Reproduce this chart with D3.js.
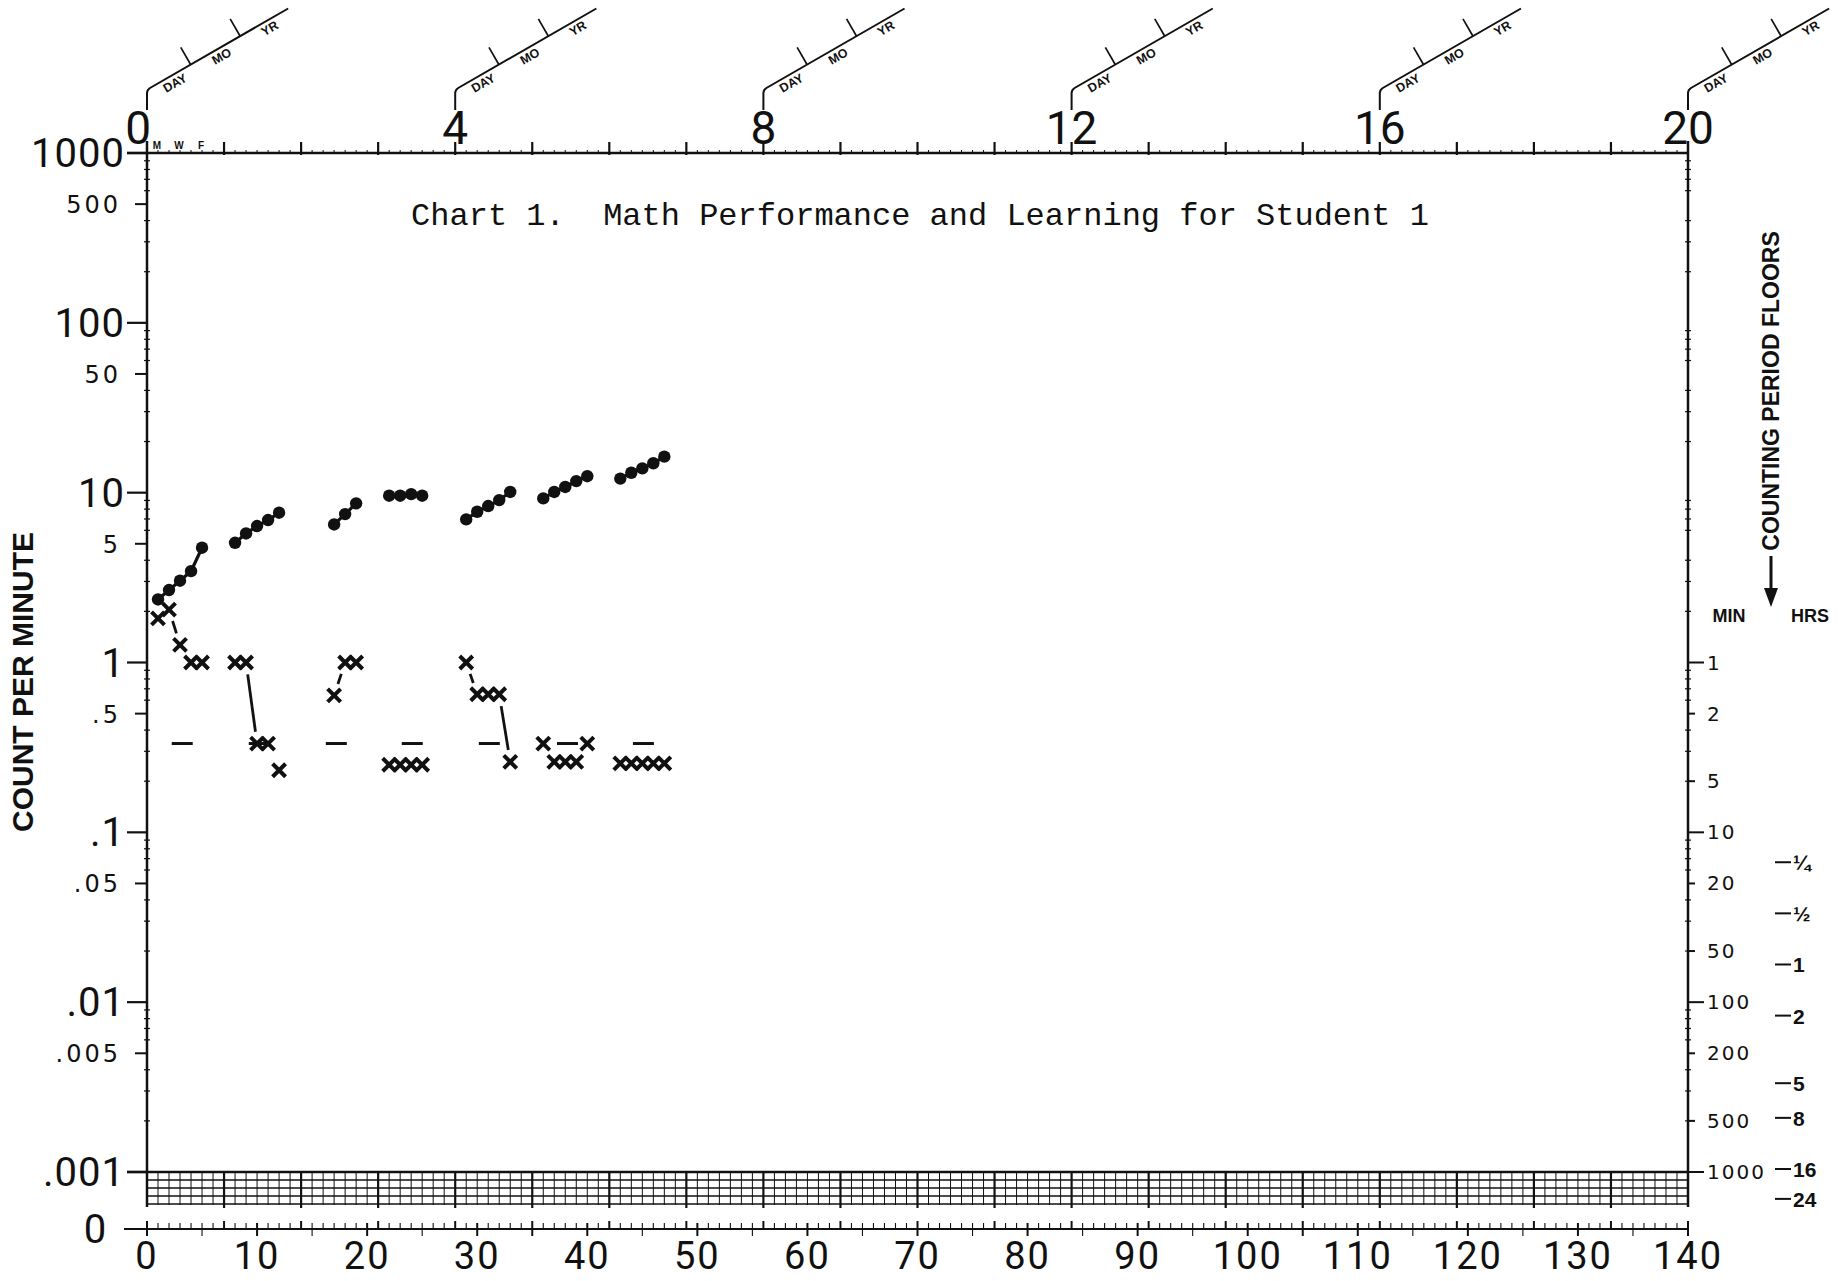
<!DOCTYPE html>
<html>
<head>
<meta charset="utf-8">
<script src="https://cdn.jsdelivr.net/npm/d3@7"></script>
<style>
  body { margin: 0; background: #fff; }
  svg { display: block; }
  text { fill: #111; }
</style>
</head>
<body>
<div id="chart"></div>
<script>
// --- data ---
const correctDays = [1, 2, 3, 4, 5, 8, 9, 10, 11, 12, 17, 18, 19, 22, 23, 24, 25,
  29, 30, 31, 32, 33, 36, 37, 38, 39, 40, 43, 44, 45, 46, 47];
const correctRates = [2.35, 2.67, 3.03, 3.45, 4.74, 5.07, 5.75, 6.36, 6.9, 7.62, 6.5, 7.48, 8.65,
  9.6, 9.6, 9.8, 9.6, 6.96, 7.72, 8.34, 9.04, 10.1, 9.25, 10.1, 10.8, 11.7, 12.5,
  12.1, 13.1, 13.9, 14.9, 16.3];
const errorDays = [1, 2, 3, 4, 5, 8, 9, 10, 11, 12, 17, 18, 19, 22, 23, 24, 25,
  29, 30, 31, 32, 33, 36, 37, 38, 39, 40, 43, 44, 45, 46, 47];
const errorRates = [1.82, 2.05, 1.27, 1.0, 1.0, 1.0, 1.0, 0.333, 0.333, 0.232, 0.64, 1.0, 1.0,
  0.25, 0.25, 0.25, 0.25, 1.0, 0.65, 0.65, 0.65, 0.26, 0.333, 0.26, 0.26, 0.26, 0.333,
  0.255, 0.255, 0.255, 0.255, 0.255];
const floorDays = [3.2, 10.2, 17.2, 24.1, 31.1, 38.2, 45.1];
const floorRate = 1 / 3;

const leftBig = [1000, 100, 10, 1, 0.1, 0.01, 0.001];
const leftBigLabels = ["1000", "100", "10", "1", ".1", ".01", ".001"];
const leftSmall = [500, 50, 5, 0.5, 0.05, 0.005];
const leftSmallLabels = ["500", "50", "5", ".5", ".05", ".005"];
const minutes = [1, 2, 5, 10, 20, 50, 100, 200, 500, 1000];
const hours = [0.25, 0.5, 1, 2, 5, 8, 16, 24];
const hourLabels = ["¼", "½", "1", "2", "5", "8", "16", "24"];
const weekLabels = [0, 4, 8, 12, 16, 20];
const dayLabels = [0, 10, 20, 30, 40, 50, 60, 70, 80, 90, 100, 110, 120, 130, 140];
const titleText = "Chart 1.  Math Performance and Learning for Student 1";

const W = 1844, H = 1281;
const svg = d3.select("#chart").append("svg").attr("width", W).attr("height", H);

const x = d3.scaleLinear().domain([0, 140]).range([147, 1688]);
const y = d3.scaleLog().domain([0.001, 1000]).range([1172, 153]);
const yZero = 1229;
const bandBottom = 1205;
const numFont = "Roboto, 'DejaVu Sans', sans-serif";

const g = svg.append("g").attr("stroke", "#111").attr("fill", "none");

// frame
g.append("line").attr("x1", 127).attr("x2", 1688).attr("y1", y(1000)).attr("y2", y(1000)).attr("stroke-width", 2.5);
g.append("line").attr("x1", 127).attr("x2", 1688).attr("y1", y(0.001)).attr("y2", y(0.001)).attr("stroke-width", 2.5);
g.append("line").attr("x1", x(0)).attr("x2", x(0)).attr("y1", 141).attr("y2", bandBottom + 2).attr("stroke-width", 2.5);
g.append("line").attr("x1", x(140)).attr("x2", x(140)).attr("y1", 141).attr("y2", bandBottom + 2).attr("stroke-width", 2.5);

// top day / week ticks
const allDays = d3.range(1, 140);
g.selectAll(".dt").data(allDays).enter().append("line")
  .attr("x1", d => x(d)).attr("x2", d => x(d))
  .attr("y1", d => y(1000) - (d % 7 === 0 ? 11 : 3))
  .attr("y2", d => y(1000) + (d % 7 === 0 ? 2 : 0))
  .attr("stroke-width", d => d % 7 === 0 ? 2.2 : 1);

// left / right axis minor ticks
const minor = [];
for (let e = -3; e < 3; e++) for (let m = 2; m <= 9; m++) if (m !== 5) minor.push(m * Math.pow(10, e));
g.selectAll(".lm").data(minor).enter().append("line")
  .attr("x1", x(0) - 3).attr("x2", x(0) + 3).attr("y1", d => y(d)).attr("y2", d => y(d)).attr("stroke-width", 1.2);
g.selectAll(".rm").data(minor).enter().append("line")
  .attr("x1", x(140) - 3).attr("x2", x(140) + 3).attr("y1", d => y(d)).attr("y2", d => y(d)).attr("stroke-width", 1.2);
g.selectAll(".lb").data(leftBig).enter().append("line")
  .attr("x1", 127).attr("x2", x(0)).attr("y1", d => y(d)).attr("y2", d => y(d)).attr("stroke-width", 2.2);
g.selectAll(".ls").data(leftSmall).enter().append("line")
  .attr("x1", 135).attr("x2", x(0)).attr("y1", d => y(d)).attr("y2", d => y(d)).attr("stroke-width", 2);

// right axis ticks (minutes -> floor = 1/min)
g.selectAll(".rt").data(minutes).enter().append("line")
  .attr("x1", x(140)).attr("x2", d => x(140) + ([1, 10, 100, 1000].includes(d) ? 16 : 7))
  .attr("y1", d => y(1 / d)).attr("y2", d => y(1 / d)).attr("stroke-width", 2);
g.selectAll(".ht").data(hours).enter().append("line")
  .attr("x1", 1775).attr("x2", 1791)
  .attr("y1", d => y(1 / (d * 60))).attr("y2", d => y(1 / (d * 60))).attr("stroke-width", 2);

// record floor band
const bandRows = [1180, 1188, 1196, 1204];
g.selectAll(".br").data(bandRows).enter().append("line")
  .attr("x1", x(0)).attr("x2", x(140)).attr("y1", d => d).attr("y2", d => d).attr("stroke-width", 1.5);
g.selectAll(".bc").data(d3.range(1, 140)).enter().append("line")
  .attr("x1", d => x(d)).attr("x2", d => x(d))
  .attr("y1", y(0.001)).attr("y2", d => d % 7 === 0 ? bandBottom + 3 : bandBottom)
  .attr("stroke-width", d => d % 7 === 0 ? 2.2 : 1);

// zero line
g.append("line").attr("x1", 124).attr("x2", x(140)).attr("y1", yZero).attr("y2", yZero).attr("stroke-width", 2.2);
g.selectAll(".zt").data(d3.range(0, 141)).enter().append("line")
  .attr("x1", d => x(d)).attr("x2", d => x(d))
  .attr("y1", d => yZero - (d % 7 === 0 ? 8 : 6)).attr("y2", d => yZero + (d % 5 === 0 ? 7 : 0))
  .attr("stroke-width", d => (d % 7 === 0 || d % 10 === 0) ? 2 : 1.1);

// celeration fans
const ang = 30 * Math.PI / 180, fanLen = 163;
const ux = Math.cos(ang), uy = -Math.sin(ang);
weekLabels.forEach(w => {
  const x0 = x(w * 7), yb = 90;
  g.append("path").attr("stroke-width", 2)
    .attr("d", `M${x0},110 L${x0},${yb + 3} Q${x0},${yb} ${x0 + 3},${yb - 2} L${x0 + fanLen * ux},${yb + fanLen * uy}`);
  [0.31, 0.66].forEach(f => {
    const bx = x0 + fanLen * f * ux, by = yb + fanLen * f * uy;
    g.append("line").attr("x1", bx).attr("y1", by)
      .attr("x2", bx - 20 * Math.sin(ang)).attr("y2", by - 20 * Math.cos(ang)).attr("stroke-width", 1.7);
  });
  [["DAY", 0.17], ["MO", 0.5], ["YR", 0.84]].forEach(([t, f]) => {
    const bx = x0 + fanLen * f * ux + 9 * Math.sin(ang), by = yb + fanLen * f * uy + 9 * Math.cos(ang);
    svg.append("text").attr("transform", `translate(${bx},${by}) rotate(-30)`)
      .attr("text-anchor", "middle").attr("dominant-baseline", "middle")
      .style("font", "bold 12.5px 'Liberation Sans', sans-serif").text(t);
  });
});

// texts
const txt = svg.append("g");
txt.selectAll(".wl").data(weekLabels).enter().append("text")
  .attr("x", d => d === 0 ? x(0) + 4 : x(d * 7)).attr("y", 144)
  .attr("text-anchor", d => d === 0 ? "end" : "middle")
  .style("font", `46px ${numFont}`).text(d => d);
[["M", 1], ["W", 3], ["F", 5]].forEach(([t, d]) => {
  txt.append("text").attr("x", x(d) - 1).attr("y", 149).attr("text-anchor", "middle")
    .style("font", "bold 10px 'Liberation Sans', sans-serif").text(t);
});
txt.selectAll(".bl").data(dayLabels).enter().append("text")
  .attr("x", d => x(d)).attr("y", 1269).attr("text-anchor", "middle")
  .style("font", `38px ${numFont}`).style("letter-spacing", "2px").text(d => d);
txt.selectAll(".lbl").data(leftBig).enter().append("text")
  .attr("x", 125).attr("y", d => y(d) + 14).attr("text-anchor", "end")
  .style("font", `40px ${numFont}`).style("letter-spacing", "1px").text((d, i) => leftBigLabels[i]);
txt.selectAll(".lsl").data(leftSmall).enter().append("text")
  .attr("x", 121).attr("y", d => y(d) + 9).attr("text-anchor", "end")
  .style("font", "24px 'DejaVu Sans', sans-serif").style("letter-spacing", "3px").text((d, i) => leftSmallLabels[i]);
txt.append("text").attr("x", 95).attr("y", yZero + 14).attr("text-anchor", "middle")
  .style("font", `40px ${numFont}`).text("0");
txt.selectAll(".mn").data(minutes).enter().append("text")
  .attr("x", 1707).attr("y", d => y(1 / d) + 7)
  .style("font", "20px 'DejaVu Sans', sans-serif").style("letter-spacing", "2px").text(d => d);
txt.selectAll(".hr").data(hours).enter().append("text")
  .attr("x", 1793).attr("y", (d) => y(1 / (d * 60)) + 8)
  .style("font", "bold 21px 'Liberation Sans', sans-serif").text((d, i) => hourLabels[i]);
txt.append("text").attr("x", 1729).attr("y", 622).attr("text-anchor", "middle")
  .style("font", "bold 18px 'Liberation Sans', sans-serif").text("MIN");
txt.append("text").attr("x", 1810).attr("y", 622).attr("text-anchor", "middle")
  .style("font", "bold 18px 'Liberation Sans', sans-serif").text("HRS");
txt.append("text").attr("transform", "translate(1779,391) rotate(-90)").attr("text-anchor", "middle")
  .style("font", "bold 23px 'Liberation Sans', sans-serif").text("COUNTING PERIOD FLOORS");
g.append("line").attr("x1", 1771).attr("x2", 1771).attr("y1", 556).attr("y2", 592).attr("stroke-width", 3);
svg.append("path").attr("d", "M1764,588 L1778,588 L1771,607 Z").attr("fill", "#111");
txt.append("text").attr("transform", "translate(33,682) rotate(-90)").attr("text-anchor", "middle")
  .style("font", "bold 30px 'Liberation Sans', sans-serif").text("COUNT PER MINUTE");
txt.append("text").attr("x", 920).attr("y", 225).attr("text-anchor", "middle")
  .style("font", "32px 'Liberation Mono', monospace").style("white-space", "pre").text(titleText);

// --- data marks ---
const correct = correctDays.map((d, i) => ({ d, v: correctRates[i], wk: Math.floor(d / 7) }));
const errors = errorDays.map((d, i) => ({ d, v: errorRates[i], wk: Math.floor(d / 7) }));
const marks = svg.append("g");

// correct lines (connect within a week)
d3.groups(correct, p => p.wk).forEach(([, pts]) => {
  marks.append("path").datum(pts)
    .attr("d", d3.line().x(p => x(p.d)).y(p => y(p.v)))
    .attr("fill", "none").attr("stroke", "#111").attr("stroke-width", 3.2);
});
marks.selectAll(".dot").data(correct).enter().append("circle")
  .attr("cx", p => x(p.d)).attr("cy", p => y(p.v)).attr("r", 6.2).attr("fill", "#111");

// error lines, broken around the x marks
const gap = 12;
d3.groups(errors, p => p.wk).forEach(([, pts]) => {
  for (let i = 1; i < pts.length; i++) {
    const x1 = x(pts[i - 1].d), y1 = y(pts[i - 1].v), x2 = x(pts[i].d), y2 = y(pts[i].v);
    const len = Math.hypot(x2 - x1, y2 - y1);
    if (len - 2 * gap < 5) continue;
    const ex = (x2 - x1) / len, ey = (y2 - y1) / len;
    marks.append("line")
      .attr("x1", x1 + ex * gap).attr("y1", y1 + ey * gap)
      .attr("x2", x2 - ex * gap).attr("y2", y2 - ey * gap)
      .attr("stroke", "#111").attr("stroke-width", 2.8);
  }
});
const cs = 6.5;
marks.selectAll(".err").data(errors).enter().append("path")
  .attr("d", p => {
    const cx = x(p.d), cy = y(p.v);
    return `M${cx - cs},${cy - cs}L${cx + cs},${cy + cs}M${cx + cs},${cy - cs}L${cx - cs},${cy + cs}`;
  })
  .attr("stroke", "#111").attr("stroke-width", 4).attr("fill", "none");

// counting period floor marks
marks.selectAll(".fl").data(floorDays).enter().append("line")
  .attr("x1", d => x(d) - 10.5).attr("x2", d => x(d) + 10.5)
  .attr("y1", y(floorRate)).attr("y2", y(floorRate))
  .attr("stroke", "#111").attr("stroke-width", 3);
</script>
</body>
</html>
